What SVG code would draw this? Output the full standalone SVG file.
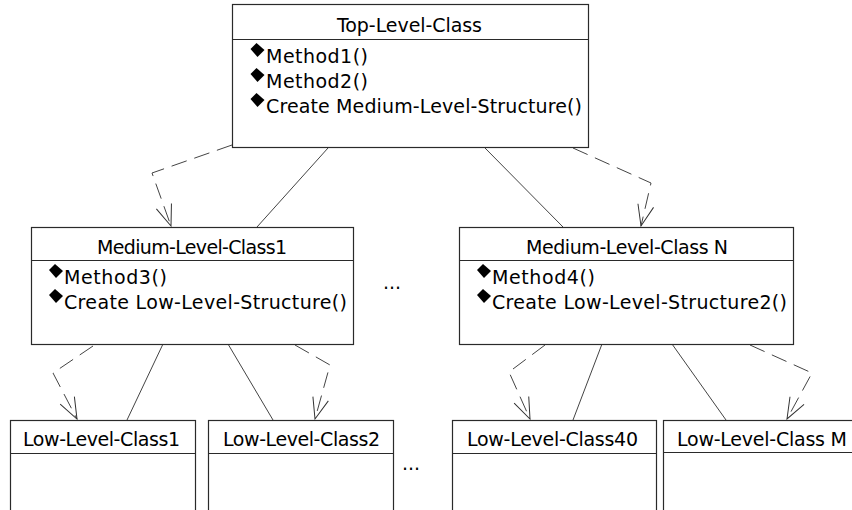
<svg xmlns="http://www.w3.org/2000/svg" width="852" height="510" viewBox="0 0 852 510">
  <style>
    .box { fill: #ffffff; stroke: #2a2a2a; stroke-width: 1.2; }
    .sep { stroke: #2a2a2a; stroke-width: 1.2; }
    .t { font-family: "DejaVu Sans", Verdana, sans-serif; font-size: 19px; fill: #000000; }
    .c { text-anchor: middle; }
    .op { fill: #000000; }
    .link { fill: none; stroke: #444444; stroke-width: 1; }
    .dep { fill: none; stroke: #444444; stroke-width: 1; stroke-dasharray: 16 8; marker-end: url(#open); }
  </style>
  <defs>
    <!-- open V arrowhead for dependency links -->
    <marker id="open" markerUnits="userSpaceOnUse" markerWidth="26" markerHeight="22" viewBox="-24 -11 26 22" refX="0" refY="0" orient="auto">
      <path d="M-21,-8 L0,0 L-21,8" fill="none" stroke="#333333" stroke-width="1" stroke-dasharray="none"/>
    </marker>
    <!-- operation icon -->
    <polygon id="opIcon" points="-1,-7 7,0 0,7 -7,-1"/>
  </defs>

  <rect x="0" y="0" width="852" height="510" fill="#ffffff"/>

  <!-- connectors -->
  <g id="connectors">
    <polyline class="dep" points="232,145 152,173 171,226"/>
    <line class="link" x1="328" y1="148" x2="257" y2="227"/>
    <line class="link" x1="485" y1="148" x2="563" y2="227"/>
    <polyline class="dep" points="573,148 651,183 641,226"/>

    <polyline class="dep" points="93,346 53,373 77,419"/>
    <line class="link" x1="163" y1="344" x2="127" y2="420"/>
    <line class="link" x1="228" y1="344" x2="273" y2="420"/>
    <polyline class="dep" points="295,345 330,365 315,419"/>

    <polyline class="dep" points="545,345 509,372 530,419"/>
    <line class="link" x1="602" y1="344" x2="573" y2="420"/>
    <line class="link" x1="672" y1="344" x2="726" y2="420"/>
    <polyline class="dep" points="750,345 812,373 787,419"/>
  </g>

  <!-- top level class -->
  <g id="top-level-class">
    <rect class="box" x="232.5" y="4.5" width="356" height="143"/>
    <line class="sep" x1="232.5" y1="39.5" x2="588.5" y2="39.5"/>
    <text class="t c" x="409.5" y="32" textLength="145" lengthAdjust="spacing">Top-Level-Class</text>
    <use href="#opIcon" class="op" x="257.5" y="50"/>
    <text class="t" x="266" y="63" textLength="102" lengthAdjust="spacing">Method1()</text>
    <use href="#opIcon" class="op" x="257.5" y="75"/>
    <text class="t" x="266" y="88" textLength="102" lengthAdjust="spacing">Method2()</text>
    <use href="#opIcon" class="op" x="257.5" y="100"/>
    <text class="t" x="266" y="113" textLength="316" lengthAdjust="spacing">Create Medium-Level-Structure()</text>
  </g>

  <!-- medium level classes -->
  <g id="medium-level-class-1">
    <rect class="box" x="31.5" y="227.5" width="322" height="117"/>
    <line class="sep" x1="31.5" y1="260.5" x2="353.5" y2="260.5"/>
    <text class="t c" x="192" y="254" textLength="190" lengthAdjust="spacing">Medium-Level-Class1</text>
    <use href="#opIcon" class="op" x="56" y="271"/>
    <text class="t" x="64" y="284" textLength="103" lengthAdjust="spacing">Method3()</text>
    <use href="#opIcon" class="op" x="56" y="296"/>
    <text class="t" x="64" y="309" textLength="283" lengthAdjust="spacing">Create Low-Level-Structure()</text>
  </g>

  <text class="t" x="383" y="289">...</text>

  <g id="medium-level-class-n">
    <rect class="box" x="459.5" y="227.5" width="334" height="117"/>
    <line class="sep" x1="459.5" y1="260.5" x2="793.5" y2="260.5"/>
    <text class="t c" x="627" y="254" textLength="202" lengthAdjust="spacing">Medium-Level-Class N</text>
    <use href="#opIcon" class="op" x="484" y="271"/>
    <text class="t" x="492" y="284" textLength="103" lengthAdjust="spacing">Method4()</text>
    <use href="#opIcon" class="op" x="484" y="296"/>
    <text class="t" x="492" y="309" textLength="295" lengthAdjust="spacing">Create Low-Level-Structure2()</text>
  </g>

  <!-- low level classes -->
  <g id="low-level-class-1">
    <rect class="box" x="10.5" y="420.5" width="185" height="120"/>
    <line class="sep" x1="10.5" y1="453.5" x2="195.5" y2="453.5"/>
    <text class="t c" x="101.5" y="446" textLength="157" lengthAdjust="spacing">Low-Level-Class1</text>
  </g>

  <g id="low-level-class-2">
    <rect class="box" x="208.5" y="420.5" width="185" height="120"/>
    <line class="sep" x1="208.5" y1="453.5" x2="393.5" y2="453.5"/>
    <text class="t c" x="301.5" y="446" textLength="157" lengthAdjust="spacing">Low-Level-Class2</text>
  </g>

  <text class="t" x="402" y="470">...</text>

  <g id="low-level-class-40">
    <rect class="box" x="452.5" y="420.5" width="204" height="120"/>
    <line class="sep" x1="452.5" y1="453.5" x2="656.5" y2="453.5"/>
    <text class="t c" x="552.5" y="446" textLength="171" lengthAdjust="spacing">Low-Level-Class40</text>
  </g>

  <g id="low-level-class-m">
    <rect class="box" x="663.5" y="420.5" width="220" height="120"/>
    <line class="sep" x1="663.5" y1="452.5" x2="883.5" y2="452.5"/>
    <text class="t c" x="762" y="446" textLength="170" lengthAdjust="spacing">Low-Level-Class M</text>
  </g>
</svg>
